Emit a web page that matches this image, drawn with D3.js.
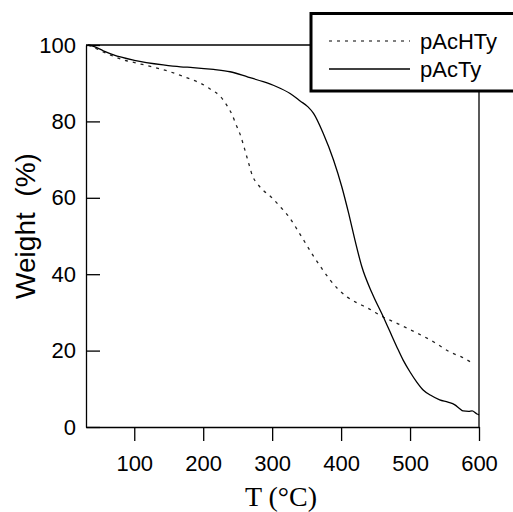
<!DOCTYPE html>
<html>
<head>
<meta charset="utf-8">
<script src="https://cdn.jsdelivr.net/npm/d3@7"></script>
<style>
  html, body { margin: 0; padding: 0; background: #fff; }
  svg { display: block; }
</style>
</head>
<body>
<svg id="chart" width="513" height="512"></svg>
<script>
// ---- data ----
const xTicks = [100, 200, 300, 400, 500, 600];
const yTicks = [0, 20, 40, 60, 80, 100];
const seriesNames = ["pAcHTy", "pAcTy"];

const tempHTy = [33, 43, 60, 84, 105, 128, 150, 166, 181, 196, 210, 225, 235, 242, 248, 254, 260, 266, 272, 278, 288, 298, 310, 324, 343, 359, 372, 384, 396, 409, 423, 438, 461, 485, 510, 535, 558, 575, 590];
const weightHTy = [100, 99.2, 97.8, 96.1, 95.2, 94.2, 93.1, 92.1, 91.1, 90.0, 88.5, 86.5, 84, 81.7, 79, 76.4, 72.8, 69, 65.5, 63.8, 61.8, 60.3, 58, 55.1, 49.7, 45, 41.5, 38.5, 36, 34, 32.5, 31.2, 28.8, 26.8, 24.6, 22.2, 19.6, 18.3, 16.8];

const tempTy = [33, 40, 55, 70, 100, 142, 167, 185, 215, 239, 265, 287, 305, 326, 341, 352, 360, 374, 389, 401, 411, 420, 430, 445, 461, 470, 481, 490, 500, 510, 519, 530, 543, 555, 565, 572, 577, 585, 590, 597, 600];
const weightTy = [100, 99.7, 98.5, 97.4, 96.0, 94.8, 94.3, 94.1, 93.6, 93.0, 91.6, 90.4, 89.2, 87.3, 85.3, 83.8, 82.1, 76.9, 69.9, 62.9, 55.9, 49, 42, 35, 28.9, 25.3, 20.9, 17.5, 14.4, 11.7, 9.7, 8.3, 7.1, 6.5, 5.8, 4.8, 4.2, 4.1, 4.2, 3.4, 3.2];

// ---- layout ----
const svg = d3.select("#chart");
const pLeft = 86, pRight = 479, pTop = 45, pBottom = 427;
const x = d3.scaleLinear().domain([30, 600]).range([pLeft, pRight]);
const y = d3.scaleLinear().domain([0, 100]).range([pBottom, pTop]);
const sans = "'Liberation Sans', Arial, sans-serif";
const serif = "'Liberation Serif', 'Times New Roman', serif";

// frame lines (top and right)
svg.append("line").attr("x1", pLeft).attr("x2", pRight).attr("y1", pTop).attr("y2", pTop)
  .attr("stroke", "#000").attr("stroke-width", 1.3);
svg.append("line").attr("x1", pRight).attr("x2", pRight).attr("y1", pTop).attr("y2", pBottom)
  .attr("stroke", "#000").attr("stroke-width", 1.3);

// x axis
const xAxis = svg.append("g").attr("transform", `translate(0,${pBottom})`)
  .call(d3.axisBottom(x).tickValues(xTicks).tickSize(14).tickSizeOuter(0).tickPadding(14));
xAxis.selectAll("text").attr("font-family", sans).attr("font-size", 22).attr("fill", "#000");

// y axis
const yAxis = svg.append("g").attr("transform", `translate(${pLeft},0)`)
  .call(d3.axisLeft(y).tickValues(yTicks).tickSizeInner(-14).tickSizeOuter(0).tickPadding(10));
yAxis.selectAll("text").attr("font-family", sans).attr("font-size", 22).attr("fill", "#000");

svg.selectAll(".domain, .tick line").attr("stroke", "#000").attr("stroke-width", 1.3);

// lines
const line = d3.line().x(d => x(d[0])).y(d => y(d[1])).curve(d3.curveMonotoneX);
const dataHTy = tempHTy.map((t, i) => [t, weightHTy[i]]);
const dataTy = tempTy.map((t, i) => [t, weightTy[i]]);

svg.append("path").datum(dataHTy).attr("d", line)
  .attr("fill", "none").attr("stroke", "#222").attr("stroke-width", 1.3)
  .attr("stroke-dasharray", "3,5");
svg.append("path").datum(dataTy).attr("d", line)
  .attr("fill", "none").attr("stroke", "#000").attr("stroke-width", 1.3);

// axis titles
svg.append("text").attr("x", 281).attr("y", 506).attr("text-anchor", "middle")
  .attr("font-family", serif).attr("font-size", 28).attr("fill", "#000")
  .text("T (°C)");
svg.append("text").attr("transform", "translate(35,226) rotate(-90)")
  .attr("text-anchor", "middle")
  .attr("font-family", sans).attr("font-size", 28).attr("fill", "#000")
  .text("Weight\u00A0 (%)");

// legend
const lg = svg.append("g");
lg.append("rect").attr("x", 311).attr("y", 13.5).attr("width", 220).attr("height", 77.5)
  .attr("fill", "#fff").attr("stroke", "#000").attr("stroke-width", 3);
const legendY = [41, 69];
const legendDash = ["3,5", null];
seriesNames.forEach((name, i) => {
  lg.append("line").attr("x1", 329).attr("x2", 410).attr("y1", legendY[i]).attr("y2", legendY[i])
    .attr("stroke", i === 0 ? "#555" : "#000").attr("stroke-width", 1.3)
    .attr("stroke-dasharray", legendDash[i]);
  lg.append("text").attr("x", 420).attr("y", legendY[i] + 8)
    .attr("font-family", sans).attr("font-size", 22).attr("fill", "#000")
    .text(name);
});
</script>
</body>
</html>
